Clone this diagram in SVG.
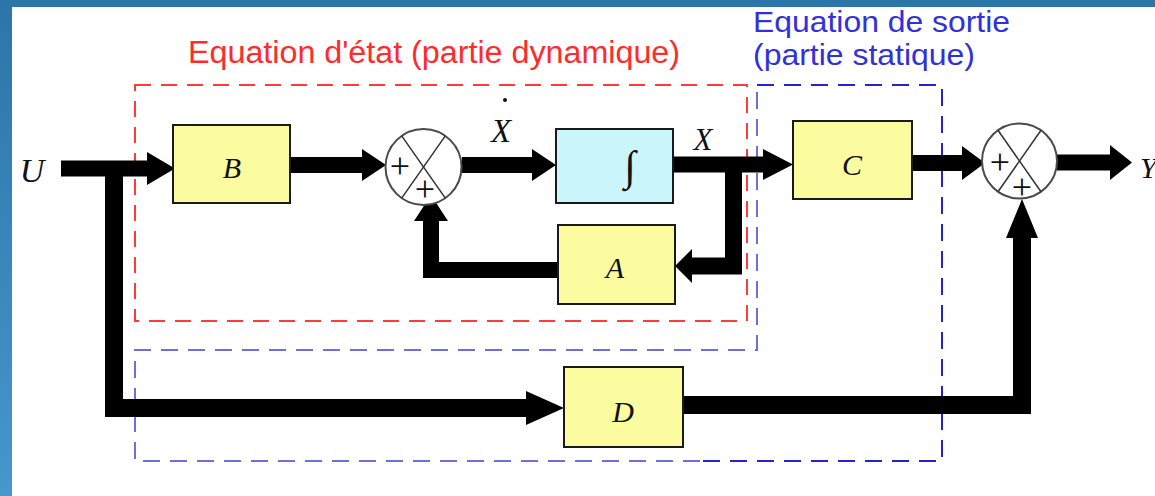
<svg xmlns="http://www.w3.org/2000/svg" width="1155" height="496" viewBox="0 0 1155 496">
  <defs>
    <linearGradient id="frameGrad" x1="0" y1="0" x2="0" y2="1">
      <stop offset="0" stop-color="#2c75a8"/>
      <stop offset="1" stop-color="#4597cc"/>
    </linearGradient>
    <style>
      .wire { fill: none; stroke: #000; stroke-width: 16; stroke-linejoin: miter; stroke-linecap: butt; }
      .head { fill: #000; stroke: none; }
      .blk { stroke: #1a1a1a; stroke-width: 2; }
      .yel { fill: #fbfb9f; }
      .cyan { fill: #c9f5fb; }
      .sum { fill: #fff; stroke: #4a4a4a; stroke-width: 2; }
      .diag { stroke: #333; stroke-width: 1.5; }
      .lbl { font-family: "Liberation Serif", "Times New Roman", serif; font-style: italic; font-size: 30px; fill: #111; text-anchor: middle; }
      .plus { font-family: "Liberation Serif", "Times New Roman", serif; font-size: 36px; fill: #111; text-anchor: middle; dominant-baseline: central; }
      .title-red { font-family: "Liberation Sans", Arial, sans-serif; font-size: 31px; fill: #ff2b2b; }
      .title-blue { font-family: "Liberation Sans", Arial, sans-serif; font-size: 29px; fill: #3030dc; }
      .frame-red { fill: none; stroke: #ff3a3a; stroke-width: 2; stroke-dasharray: 16 10; }
      .frame-blue { fill: none; stroke-width: 2; stroke-dasharray: 17 10; }
    </style>
  </defs>

  <!-- slide frame -->
  <rect x="0" y="0" width="1155" height="496" fill="url(#frameGrad)"/>
  <rect x="12" y="7" width="1143" height="489" fill="#fff"/>

  <!-- section frames -->
  <g id="frames">
    <rect class="frame-red" x="135" y="85" width="612" height="236"/>
    <path class="frame-blue" stroke="#2424cc" d="M757,85 H942 V461 H700"/>
    <path class="frame-blue" stroke="#6e6edc" d="M700,461 H135 V350 H757 V85"/>
  </g>

  <!-- section titles -->
  <text class="title-red" x="188" y="63" textLength="492" lengthAdjust="spacingAndGlyphs">Equation d'état (partie dynamique)</text>
  <text class="title-blue" x="753" y="32" textLength="257" lengthAdjust="spacingAndGlyphs">Equation de sortie</text>
  <text class="title-blue" x="753" y="65" textLength="222" lengthAdjust="spacingAndGlyphs">(partie statique)</text>

  <!-- signal paths -->
  <g id="connectors">
    <!-- U input to B -->
    <path class="wire" d="M61,168.5 H150"/>
    <polygon class="head" points="147,152 175,168.5 147,185"/>
    <!-- feedthrough branch to D -->
    <path class="wire" style="stroke-width:18" d="M114,161 V408 H528"/>
    <polygon class="head" points="526,391 564,408 526,425"/>
    <!-- B to first summer -->
    <path class="wire" d="M290,165 H364"/>
    <polygon class="head" points="362,149 386,165 362,181"/>
    <!-- first summer to integrator -->
    <path class="wire" d="M462,165 H534"/>
    <polygon class="head" points="532,149 556,165 532,181"/>
    <!-- state X to C -->
    <path class="wire" d="M673,164.5 H765"/>
    <polygon class="head" points="763,149 793,164.5 763,180"/>
    <!-- state feedback into A -->
    <path class="wire" style="stroke-width:17" d="M733.5,164 V266 H690"/>
    <polygon class="head" points="692,249 675,266 692,283"/>
    <!-- A back to first summer -->
    <path class="wire" d="M558,270 H431 V218"/>
    <polygon class="head" points="414,221 431,195 448,221"/>
    <!-- C to output summer -->
    <path class="wire" d="M912,163 H964"/>
    <polygon class="head" points="962,146 985,163 962,180"/>
    <!-- output summer to Y -->
    <path class="wire" d="M1057,162.5 H1112"/>
    <polygon class="head" points="1110,145 1132,162.5 1110,180"/>
    <!-- D to output summer -->
    <path class="wire" style="stroke-width:18" d="M683,405 H1022 V235"/>
    <polygon class="head" points="1006,238 1022,199 1038,238"/>
  </g>

  <!-- signal names -->
  <text class="lbl" x="32" y="182" style="font-size:34px">U</text>
  <text class="lbl" x="1140" y="178" style="text-anchor:start">Y</text>
  <text class="lbl" x="501" y="142" style="font-size:33px">X</text>
  <circle cx="505" cy="100" r="2" fill="#111"/>
  <text class="lbl" x="703" y="150" style="font-size:31px">X</text>

  <!-- blocks -->
  <g id="B">
    <rect class="blk yel" x="173" y="125" width="117" height="78"/>
    <text class="lbl" x="232" y="178">B</text>
  </g>
  <g id="integrator">
    <rect class="blk cyan" x="556" y="129" width="117" height="74"/>
    <text class="lbl" x="630" y="180" style="font-size:42px">∫</text>
  </g>
  <g id="A">
    <rect class="blk yel" x="558" y="225" width="117" height="79"/>
    <text class="lbl" x="615" y="278">A</text>
  </g>
  <g id="C">
    <rect class="blk yel" x="793" y="121" width="119" height="78"/>
    <text class="lbl" x="852" y="175">C</text>
  </g>
  <g id="D">
    <rect class="blk yel" x="564" y="367" width="119" height="80"/>
    <text class="lbl" x="623" y="422">D</text>
  </g>

  <!-- summing junctions -->
  <g id="sum1">
    <circle class="sum" cx="423.5" cy="167" r="38"/>
    <line class="diag" x1="401.7" y1="135.9" x2="445.3" y2="198.1"/>
    <line class="diag" x1="445.3" y1="135.9" x2="401.7" y2="198.1"/>
    <text class="plus" x="400" y="166">+</text>
    <text class="plus" x="425" y="189">+</text>
  </g>
  <g id="sum2">
    <circle class="sum" cx="1019.5" cy="161" r="37.5"/>
    <line class="diag" x1="998" y1="130.3" x2="1041" y2="191.7"/>
    <line class="diag" x1="1041" y1="130.3" x2="998" y2="191.7"/>
    <text class="plus" x="1000" y="162">+</text>
    <text class="plus" x="1022" y="187">+</text>
  </g>
</svg>
